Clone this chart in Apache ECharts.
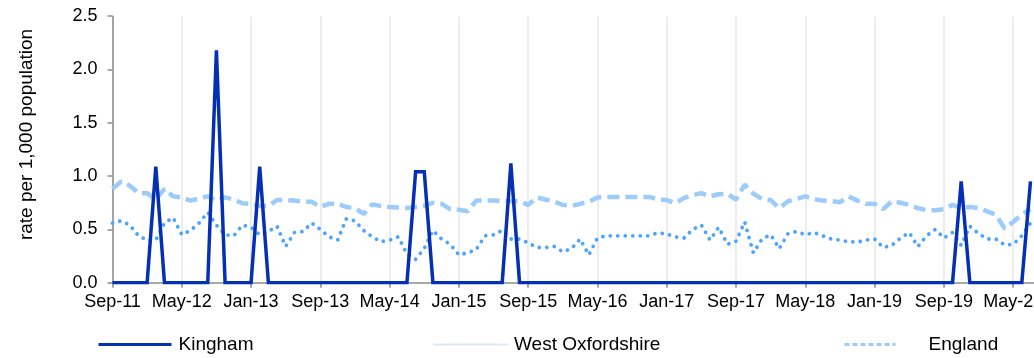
<!DOCTYPE html>
<html>
<head>
<meta charset="utf-8">
<script src="https://cdn.jsdelivr.net/npm/echarts@6/dist/echarts.min.js"></script>
<style>
  html, body { margin: 0; padding: 0; background: #fff; overflow: hidden; }
  #wrap { width: 1034px; height: 358px; overflow: hidden; }
  #chart { width: 1060px; height: 358px; }
</style>
</head>
<body>
<div id="wrap"><div id="chart"></div></div>
<script>
// Monthly rate per 1,000 population, starting Sep-11
const startYear = 2011;
const startMonth = 8; // September (0-based)
const monthNames = ['Jan','Feb','Mar','Apr','May','Jun','Jul','Aug','Sep','Oct','Nov','Dec'];
const monthCount = 109; // axis runs to Sep-20

const kingham = [
  0, 0, 0, 0, 0, 1.09, 0, 0, 0, 0, 0, 0,
  2.18, 0, 0, 0, 0, 1.09, 0, 0, 0, 0, 0, 0,
  0, 0, 0, 0, 0, 0, 0, 0, 0, 0, 0, 1.04,
  1.04, 0, 0, 0, 0, 0, 0, 0, 0, 0, 1.12, 0,
  0, 0, 0, 0, 0, 0, 0, 0, 0, 0, 0, 0,
  0, 0, 0, 0, 0, 0, 0, 0, 0, 0, 0, 0,
  0, 0, 0, 0, 0, 0, 0, 0, 0, 0, 0, 0,
  0, 0, 0, 0, 0, 0, 0, 0, 0, 0, 0, 0,
  0, 0, 0.95, 0, 0, 0, 0, 0, 0, 0, 0.95
];

const westOxfordshire = [
  0.56, 0.58, 0.54, 0.44, 0.40, 0.40, 0.56, 0.61, 0.45, 0.49, 0.56, 0.66,
  0.54, 0.45, 0.44, 0.54, 0.52, 0.45, 0.48, 0.53, 0.34, 0.47, 0.48, 0.56,
  0.50, 0.43, 0.40, 0.60, 0.58, 0.49, 0.43, 0.385, 0.40, 0.43, 0.27, 0.22,
  0.32, 0.49, 0.41, 0.36, 0.26, 0.28, 0.31, 0.44, 0.45, 0.49, 0.41, 0.41,
  0.375, 0.33, 0.33, 0.34, 0.29, 0.32, 0.41, 0.26, 0.42, 0.44, 0.44, 0.44,
  0.44, 0.44, 0.44, 0.47, 0.455, 0.43, 0.42, 0.50, 0.54, 0.40, 0.52, 0.36,
  0.39, 0.57, 0.28, 0.41, 0.45, 0.32, 0.46, 0.48, 0.45, 0.47, 0.44, 0.41,
  0.40, 0.385, 0.38, 0.40, 0.41, 0.33, 0.35, 0.42, 0.47, 0.34, 0.44, 0.50,
  0.42, 0.47, 0.35, 0.53, 0.46, 0.41, 0.41, 0.355, 0.36, 0.44, 0.56
];

const england = [
  0.88, 0.95, 0.91, 0.84, 0.84, 0.78, 0.88, 0.81, 0.80, 0.77, 0.79, 0.81,
  0.77, 0.80, 0.78, 0.745, 0.74, 0.72, 0.72, 0.775, 0.775, 0.77, 0.76, 0.76,
  0.71, 0.74, 0.74, 0.71, 0.70, 0.645, 0.735, 0.72, 0.71, 0.705, 0.70, 0.71,
  0.72, 0.75, 0.74, 0.69, 0.685, 0.67, 0.77, 0.77, 0.77, 0.765, 0.765, 0.765,
  0.73, 0.80, 0.78, 0.76, 0.73, 0.72, 0.74, 0.76, 0.80, 0.805, 0.805, 0.805,
  0.805, 0.805, 0.805, 0.78, 0.775, 0.745, 0.795, 0.82, 0.84, 0.81, 0.83, 0.835,
  0.78, 0.92, 0.835, 0.785, 0.775, 0.70, 0.765, 0.785, 0.81, 0.785, 0.77, 0.765,
  0.755, 0.81, 0.77, 0.74, 0.74, 0.69, 0.765, 0.75, 0.73, 0.70, 0.68, 0.68,
  0.69, 0.73, 0.70, 0.71, 0.70, 0.67, 0.64, 0.51, 0.57, 0.64, 0.69
];

const yTicks = { min: 0, max: 2.5, interval: 0.5 };

// Month labels like "Sep-11"
const months = [];
for (let k = 0; k < monthCount; k++) {
  const m = (startMonth + k) % 12;
  const y = startYear + Math.floor((startMonth + k) / 12);
  months.push(monthNames[m] + '-' + String(y % 100).padStart(2, '0'));
}

const FONT = 'Liberation Sans, Arial, sans-serif';
const C_KINGHAM = '#0530b4';
const C_WESTOX = '#4ea4fc';
const C_ENGLAND = '#9dcbfa';

const chart = echarts.init(document.getElementById('chart'), null, { renderer: 'canvas' });

const legendBase = {
  top: 335,
  padding: 0,
  itemWidth: 73,
  itemHeight: 14,
  itemGap: 0,
  textStyle: { fontFamily: FONT, fontSize: 19, color: '#000', padding: [0, 0, 0, 2] },
  selectedMode: false
};
const noSymbol = { color: 'rgba(0,0,0,0)', borderWidth: 0, opacity: 0 };

chart.setOption({
  animation: false,
  textStyle: { fontFamily: FONT },
  grid: { left: 112.5, top: 16.2, width: 935.3, height: 266.5, containLabel: false },
  legend: [
    Object.assign({}, legendBase, {
      left: 97,
      data: [{ name: 'Kingham', itemStyle: noSymbol,
        lineStyle: { color: C_KINGHAM, width: 3, type: 'solid' } }]
    }),
    Object.assign({}, legendBase, {
      left: 433,
      data: [{ name: 'West Oxfordshire', itemStyle: noSymbol,
        lineStyle: { color: '#dde6f3', width: 2, type: [1.5, 1.5] } }]
    }),
    Object.assign({}, legendBase, {
      left: 843,
      itemWidth: 51,
      textStyle: Object.assign({}, legendBase.textStyle, { padding: [0, 0, 0, 28] }),
      data: [{ name: 'England', itemStyle: noSymbol,
        lineStyle: { color: C_ENGLAND, width: 3, type: [5, 3] } }]
    })
  ],
  xAxis: {
    type: 'category',
    data: months,
    boundaryGap: false,
    axisLine: { lineStyle: { color: '#8c8c8c', width: 1.5 } },
    axisTick: { show: true, interval: 7, length: 5, lineStyle: { color: '#8c8c8c', width: 1.5 } },
    axisLabel: { interval: 7, margin: 10, fontSize: 18, color: '#000', fontFamily: FONT },
    splitLine: { show: true, interval: 7, lineStyle: { color: '#e6e6e6', width: 1.5 } }
  },
  yAxis: {
    type: 'value',
    min: yTicks.min,
    max: yTicks.max,
    interval: yTicks.interval,
    name: 'rate per 1,000 population',
    nameLocation: 'middle',
    nameGap: 76,
    nameTextStyle: { fontSize: 19, color: '#000', fontFamily: FONT, padding: [0, 0, 0, 30] },
    axisLine: { show: true, lineStyle: { color: '#8c8c8c', width: 1.5 } },
    axisTick: { show: true, length: 5, lineStyle: { color: '#8c8c8c', width: 1.5 } },
    axisLabel: { margin: 15, fontSize: 18, color: '#000', fontFamily: FONT,
      formatter: v => v.toFixed(1) },
    splitLine: { show: false }
  },
  series: [
    {
      name: 'England',
      type: 'line',
      data: england,
      symbol: 'none',
      z: 2,
      itemStyle: { color: C_ENGLAND },
      lineStyle: { color: C_ENGLAND, width: 4.5, type: [12, 6] }
    },
    {
      name: 'West Oxfordshire',
      type: 'line',
      data: westOxfordshire,
      symbol: 'none',
      z: 3,
      itemStyle: { color: C_WESTOX },
      lineStyle: { color: C_WESTOX, width: 3.8, type: [0.01, 7.5], cap: 'round' }
    },
    {
      name: 'Kingham',
      type: 'line',
      data: kingham,
      symbol: 'none',
      z: 4,
      itemStyle: { color: C_KINGHAM },
      lineStyle: { color: C_KINGHAM, width: 3.5, type: 'solid', join: 'miter' }
    }
  ]
});
</script>
</body>
</html>
